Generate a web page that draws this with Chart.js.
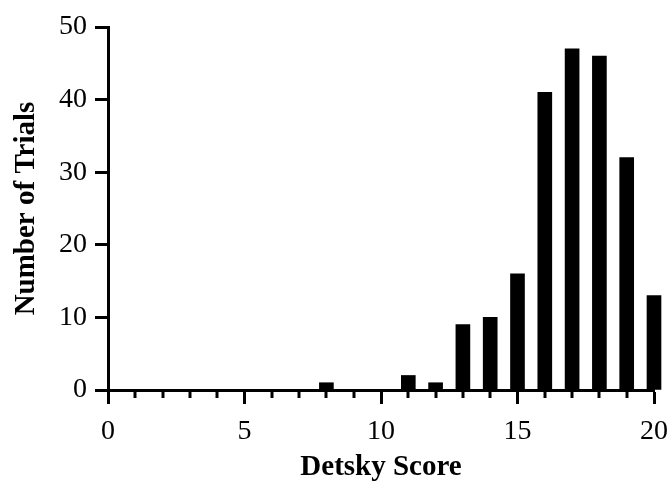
<!DOCTYPE html>
<html>
<head>
<meta charset="utf-8">
<script src="https://cdn.jsdelivr.net/npm/chart.js@4"></script>
<style>
html,body{margin:0;padding:0;background:#fff;}
canvas{display:block;}
</style>
</head>
<body>
<canvas id="c" width="669" height="483"></canvas>
<script>
const scores = [0,1,2,3,4,5,6,7,8,9,10,11,12,13,14,15,16,17,18,19,20];
const counts = [0,0,0,0,0,0,0,0,1,0,0,2,1,9,10,16,41,47,46,32,13];
const xTicks = [0,5,10,15,20];
const yTicks = [0,10,20,30,40,50];
const xTitle = 'Detsky Score';
const yTitle = 'Number of Trials';

const FONT = '"Liberation Serif", "Times New Roman", serif';

const minorTickPlugin = {
  id: 'minorTicks',
  afterDraw(chart) {
    const xs = chart.scales.x;
    const ctx = chart.ctx;
    ctx.save();
    ctx.strokeStyle = '#000';
    ctx.lineWidth = 3;
    scores.forEach(v => {
      if (xTicks.includes(v)) return;
      const px = Math.round(xs.getPixelForValue(v));
      ctx.beginPath();
      ctx.moveTo(px, xs.top);
      ctx.lineTo(px, xs.top + 8);
      ctx.stroke();
    });
    ctx.restore();
  }
};

new Chart(document.getElementById('c'), {
  type: 'bar',
  data: {
    datasets: [{
      data: scores.map((s, i) => ({x: s, y: counts[i]})),
      backgroundColor: '#000',
      borderWidth: 0,
      barThickness: 14,
      clip: false
    }]
  },
  options: {
    responsive: false,
    animation: false,
    devicePixelRatio: 1,
    layout: {padding: {top: 27, right: 15, left: 0, bottom: 0}},
    plugins: {legend: {display: false}, tooltip: {enabled: false}},
    scales: {
      x: {
        type: 'linear',
        min: 0, max: 20,
        offset: false,
        afterBuildTicks: s => { s.ticks = xTicks.map(v => ({value: v})); },
        afterFit: s => { s.height = 93; s.paddingLeft = 0; s.paddingRight = 0; },
        grid: {display: true, offset: false, drawOnChartArea: false, drawTicks: true, tickLength: 14, tickWidth: 3, tickColor: '#000', color: '#000'},
        border: {display: true, width: 3, color: '#000'},
        ticks: {color: '#000', font: {family: FONT, size: 28}, padding: 11, maxRotation: 0, autoSkip: false},
        title: {display: true, text: xTitle, color: '#000', font: {family: FONT, size: 29, weight: 'bold', lineHeight: 1}, padding: {top: 0, bottom: 1}}
      },
      y: {
        type: 'linear',
        min: 0, max: 50,
        afterBuildTicks: s => { s.ticks = yTicks.map(v => ({value: v})); },
        afterFit: s => { s.width = 108; s.paddingTop = 0; s.paddingBottom = 0; },
        grid: {display: true, drawOnChartArea: false, drawTicks: true, tickLength: 13, tickWidth: 3, tickColor: '#000', color: '#000'},
        border: {display: true, width: 3, color: '#000'},
        ticks: {color: '#000', font: {family: FONT, size: 28}, padding: 8},
        title: {display: true, text: yTitle, color: '#000', font: {family: FONT, size: 29, weight: 'bold', lineHeight: 1.2}, padding: {top: 9, bottom: 0}}
      }
    }
  },
  plugins: [minorTickPlugin]
});
</script>
</body>
</html>
